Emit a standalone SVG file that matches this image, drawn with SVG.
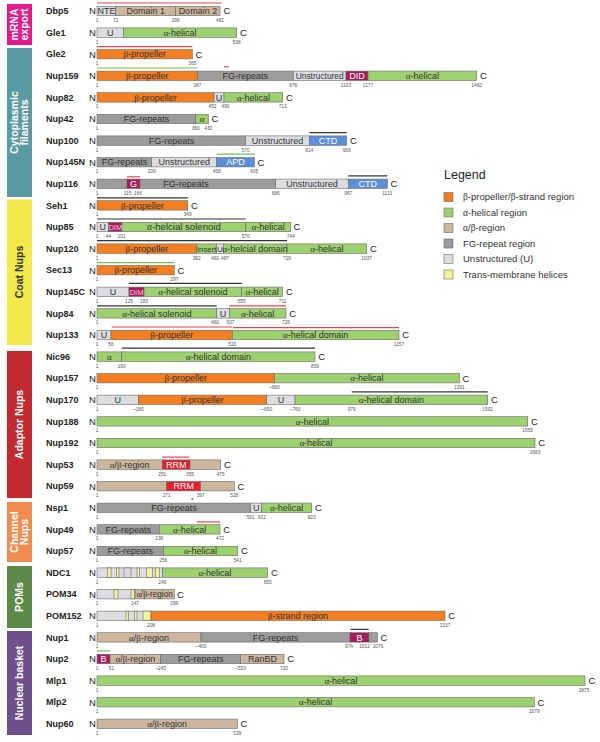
<svg xmlns="http://www.w3.org/2000/svg" width="600" height="742" viewBox="0 0 600 742">
<style>
text{font-family:"Liberation Sans",Arial,sans-serif}
.s{stroke:#6a6a6a;stroke-width:.6}
.b{fill:#f47e22}.a{fill:#9dd06e}.ab{fill:#ccb69e}.fg{fill:#9c9c9c}.u{fill:#dcdde1}.tm{fill:#f8f19c}
.m{fill:#a41c5c}.r{fill:#e3202d}.bl{fill:#5c8fd8}
.t{font-size:9px;fill:#333;text-anchor:middle}
.w{font-size:9px;fill:#fff;text-anchor:middle}
.pk{font-size:7.5px;fill:#ffc8e0;text-anchor:middle}
.g{font-family:"Liberation Serif","Times New Roman",serif}
.nm{font-size:9px;font-weight:bold;fill:#222}
.nc{font-size:9.5px;fill:#222}
.num{font-size:4.8px;fill:#555;text-anchor:middle}
.lr{stroke:#e2474f;stroke-width:1.2}
.lk{stroke:#333;stroke-width:1.2}
.lg{stroke:#6cc05a;stroke-width:1.2}
.cat{font-size:10.5px;font-weight:bold;fill:#fff;text-anchor:middle}
.lt{font-size:9.5px;fill:#333}
</style>

<g id="categories">
<g id="cat-mrna"><rect x="7" y="4" width="25" height="41" fill="#e6198c"/><text class="cat" transform="translate(19.5,24.5) rotate(-90)"><tspan x="0" y="-1.5">mRNA</tspan><tspan x="0" y="8.5">export</tspan></text></g>
<g id="cat-cyto"><rect x="7" y="48" width="25" height="149" fill="#5c9aa3"/><text class="cat" transform="translate(19.5,122.5) rotate(-90)"><tspan x="0" y="-1.5">Cytoplasmic</tspan><tspan x="0" y="8.5">filaments</tspan></text></g>
<g id="cat-coat"><rect x="7" y="199.5" width="25" height="145.5" fill="#f5ea4c"/><text class="cat" style="fill:#333" transform="translate(19.5,272) rotate(-90)" y="3.7">Coat Nups</text></g>
<g id="cat-adaptor"><rect x="7" y="351" width="25" height="147" fill="#c22a30"/><text class="cat" transform="translate(19.5,424.5) rotate(-90)" y="3.7">Adaptor Nups</text></g>
<g id="cat-channel"><rect x="7" y="502" width="25" height="60" fill="#f18c50"/><text class="cat" transform="translate(19.5,532) rotate(-90)"><tspan x="0" y="-1.5">Channel</tspan><tspan x="0" y="8.5">Nups</tspan></text></g>
<g id="cat-poms"><rect x="7" y="566" width="25" height="62" fill="#5c8b49"/><text class="cat" transform="translate(19.5,597) rotate(-90)" y="3.7">POMs</text></g>
<g id="cat-basket"><rect x="7" y="631" width="25" height="104" fill="#6f508c"/><text class="cat" transform="translate(19.5,683) rotate(-90)" y="3.7">Nuclear basket</text></g>
</g>

<g id="legend">
<text x="444" y="179" style="font-size:12.5px;fill:#222">Legend</text>
<rect class="s b" x="444" y="192.5" width="9" height="9"/><text class="lt" x="463" y="200.3"><tspan class="g">β</tspan>-propeller/<tspan class="g">β</tspan>-strand region</text>
<rect class="s a" x="444" y="208" width="9" height="9"/><text class="lt" x="463" y="215.8"><tspan class="g">α</tspan>-helical region</text>
<rect class="s ab" x="444" y="223.5" width="9" height="9"/><text class="lt" x="463" y="231.3"><tspan class="g">α</tspan>/<tspan class="g">β</tspan>-region</text>
<rect class="s fg" x="444" y="239" width="9" height="9"/><text class="lt" x="463" y="246.8">FG-repeat region</text>
<rect class="s u" x="444" y="254.5" width="9" height="9"/><text class="lt" x="463" y="262.3">Unstructured (U)</text>
<rect class="s tm" x="444" y="270" width="9" height="9"/><text class="lt" x="463" y="277.8">Trans-membrane helices</text>
</g>

<g id="connectors"></g>

<g id="Dbp5" transform="translate(0,11)">
<text class="nm" x="46" y="3.2">Dbp5</text><text class="nc" x="89" y="3.3">N</text>
<line class="lr" x1="97" y1="-8" x2="222" y2="-8"/>
<rect class="s u" x="97" y="-4.7" width="18.7" height="9.4"/><rect class="s ab" x="115.7" y="-4.7" width="60" height="9.4"/><rect class="s ab" x="175.7" y="-4.7" width="44.3" height="9.4"/>
<text class="t" x="106.4" y="3.1">NTE</text><text class="t" x="145.7" y="3.1">Domain 1</text><text class="t" x="197.9" y="3.1">Domain 2</text>
<text class="nc" x="223.5" y="3.3">C</text>
<text class="num" x="97" y="11">1</text><text class="num" x="115.7" y="11">71</text><text class="num" x="175.7" y="11">296</text><text class="num" x="220" y="11">482</text>
</g>

<g id="Gle1" transform="translate(0,32.6)">
<text class="nm" x="46" y="3.2">Gle1</text><text class="nc" x="89" y="3.3">N</text>
<rect class="s u" x="97" y="-4.7" width="26.3" height="9.4"/><rect class="s a" x="123.3" y="-4.7" width="113.4" height="9.4"/>
<text class="t" x="110.2" y="3.1">U</text><text class="t" x="180" y="3.1"><tspan class="g">α</tspan>-helical</text>
<text class="nc" x="240" y="3.3">C</text>
<text class="num" x="97" y="11">1</text><text class="num" x="236.7" y="11">538</text>
</g>

<g id="Gle2" transform="translate(0,54.2)">
<text class="nm" x="46" y="3.2">Gle2</text><text class="nc" x="89" y="3.3">N</text>
<line class="lr" x1="97" y1="-7.5" x2="192.3" y2="-7.5"/>
<rect class="s b" x="97" y="-4.7" width="95.3" height="9.4"/>
<text class="t" x="144.7" y="3.1"><tspan class="g">β</tspan>-propeller</text>
<text class="nc" x="195.5" y="3.3">C</text>
<text class="num" x="97" y="11">1</text><text class="num" x="192.3" y="11">365</text>
</g>

<g id="Nup159" transform="translate(0,75.8)">
<text class="nm" x="46" y="3.2">Nup159</text><text class="nc" x="89" y="3.3">N</text>
<line class="lg" x1="97" y1="-7.8" x2="197.3" y2="-7.8"/><line class="lr" x1="224" y1="-9" x2="229" y2="-9"/>
<rect class="s b" x="97" y="-4.7" width="100.3" height="9.4"/><rect class="s fg" x="197.3" y="-4.7" width="96" height="9.4"/><rect class="s u" x="293.3" y="-4.7" width="52.7" height="9.4"/><rect class="s m" x="346" y="-4.7" width="22" height="9.4"/><rect class="s a" x="368" y="-4.7" width="108.7" height="9.4"/>
<text class="t" x="147.2" y="3.1"><tspan class="g">β</tspan>-propeller</text><text class="t" x="245.3" y="3.1">FG-repeats</text><text class="t" x="319.7" y="3.1" style="font-size:8.4px">Unstructured</text><text class="w" x="357" y="3.1">DID</text><text class="t" x="422.4" y="3.1"><tspan class="g">α</tspan>-helical</text>
<text class="nc" x="480" y="3.3">C</text>
<text class="num" x="97" y="11">1</text><text class="num" x="197.3" y="11">387</text><text class="num" x="293.3" y="11">876</text><text class="num" x="346" y="11">1103</text><text class="num" x="368" y="11">1177</text><text class="num" x="476.7" y="11">1460</text>
</g>

<g id="Nup82" transform="translate(0,97.4)">
<text class="nm" x="46" y="3.2">Nup82</text><text class="nc" x="89" y="3.3">N</text>
<rect class="s b" x="97" y="-4.7" width="117" height="9.4"/><rect class="s u" x="214" y="-4.7" width="10" height="9.4"/><rect class="s a" x="224" y="-4.7" width="58.7" height="9.4"/>
<text class="t" x="155.5" y="3.1"><tspan class="g">β</tspan>-propeller</text><text class="t" x="219" y="3.1">U</text><text class="t" x="253.4" y="3.1"><tspan class="g">α</tspan>-helical</text>
<text class="nc" x="286" y="3.3">C</text>
<text class="num" x="97" y="11">1</text><text class="num" x="212.5" y="11">452</text><text class="num" x="225.5" y="11">490</text><text class="num" x="282.7" y="11">713</text>
</g>

<g id="Nup42" transform="translate(0,119)">
<text class="nm" x="46" y="3.2">Nup42</text><text class="nc" x="89" y="3.3">N</text>
<rect class="s fg" x="97" y="-4.7" width="98.7" height="9.4"/><rect class="s a" x="195.7" y="-4.7" width="12.6" height="9.4"/>
<text class="t" x="146.4" y="3.1">FG-repeats</text><text class="t" x="202" y="3.1"><tspan class="g">α</tspan></text>
<text class="nc" x="211.5" y="3.3">C</text>
<text class="num" x="97" y="11">1</text><text class="num" x="195.7" y="11">380</text><text class="num" x="208.3" y="11">430</text>
</g>

<g id="Nup100" transform="translate(0,140.6)">
<text class="nm" x="46" y="3.2">Nup100</text><text class="nc" x="89" y="3.3">N</text>
<line class="lk" x1="309.3" y1="-8" x2="346.7" y2="-8"/>
<rect class="s fg" x="97" y="-4.7" width="148.7" height="9.4"/><rect class="s u" x="245.7" y="-4.7" width="63.6" height="9.4"/><rect class="s bl" x="309.3" y="-4.7" width="37.4" height="9.4"/>
<text class="t" x="171.4" y="3.1">FG-repeats</text><text class="t" x="277.5" y="3.1">Unstructured</text><text class="w" x="328" y="3.1">CTD</text>
<text class="nc" x="350" y="3.3">C</text>
<text class="num" x="97" y="11">1</text><text class="num" x="245.7" y="11">570</text><text class="num" x="309.3" y="11">814</text><text class="num" x="346.7" y="11">959</text>
</g>

<g id="Nup145N" transform="translate(0,162.2)">
<text class="nm" x="46" y="3.2">Nup145N</text><text class="nc" x="89" y="3.3">N</text>
<line class="lg" x1="216.7" y1="-8" x2="255" y2="-8"/>
<rect class="s fg" x="97" y="-4.7" width="54.7" height="9.4"/><rect class="s u" x="151.7" y="-4.7" width="65" height="9.4"/><rect class="s bl" x="216.7" y="-4.7" width="37.6" height="9.4"/>
<text class="t" x="124.4" y="3.1">FG-repeats</text><text class="t" x="184.2" y="3.1">Unstructured</text><text class="w" x="235.5" y="3.1">APD</text>
<text class="nc" x="257.6" y="3.3">C</text>
<text class="num" x="97" y="11">1</text><text class="num" x="151.7" y="11">209</text><text class="num" x="216.7" y="11">458</text><text class="num" x="254.3" y="11">605</text>
</g>

<g id="Nup116" transform="translate(0,183.8)">
<text class="nm" x="46" y="3.2">Nup116</text><text class="nc" x="89" y="3.3">N</text>
<line class="lr" x1="127" y1="-7" x2="140" y2="-7"/><line class="lk" x1="348.3" y1="-8" x2="387.3" y2="-8"/>
<rect class="s fg" x="97" y="-4.7" width="30" height="9.4"/><rect class="s m" x="127" y="-4.7" width="13" height="9.4"/><rect class="s fg" x="140" y="-4.7" width="135.7" height="9.4"/><rect class="s u" x="275.7" y="-4.7" width="72.6" height="9.4"/><rect class="s bl" x="348.3" y="-4.7" width="39" height="9.4"/>
<text class="w" x="133.5" y="3.1">G</text><text class="t" x="186" y="3.1">FG-repeats</text><text class="t" x="312" y="3.1">Unstructured</text><text class="w" x="367.8" y="3.1">CTD</text>
<text class="nc" x="390.6" y="3.3">C</text>
<text class="num" x="97" y="11">1</text><text class="num" x="127.5" y="11">115</text><text class="num" x="138" y="11">166</text><text class="num" x="275.7" y="11">686</text><text class="num" x="348.3" y="11">967</text><text class="num" x="387.3" y="11">1113</text>
</g>

<g id="Seh1" transform="translate(0,205.4)">
<text class="nm" x="46" y="3.2">Seh1</text><text class="nc" x="89" y="3.3">N</text>
<line class="lk" x1="97" y1="-7.5" x2="187.7" y2="-7.5"/>
<rect class="s b" x="97" y="-4.7" width="90.7" height="9.4"/>
<text class="t" x="142.4" y="3.1"><tspan class="g">β</tspan>-propeller</text>
<text class="nc" x="191" y="3.3">C</text>
<text class="num" x="97" y="11">1</text><text class="num" x="187.7" y="11">349</text>
</g>

<g id="Nup85" transform="translate(0,227)">
<text class="nm" x="46" y="3.2">Nup85</text><text class="nc" x="89" y="3.3">N</text>
<line class="lk" x1="97" y1="-8" x2="245.7" y2="-8"/>
<rect class="s u" x="97" y="-4.7" width="11.5" height="9.4"/><rect class="s m" x="108.5" y="-4.7" width="13.5" height="9.4"/><rect class="s a" x="122" y="-4.7" width="123.7" height="9.4"/><rect class="s a" x="245.7" y="-4.7" width="45" height="9.4"/>
<text class="t" x="102.8" y="3.1">U</text><text class="pk" x="115.3" y="2.8">DIM</text><text class="t" x="183.9" y="3.1" style="font-size:9.6px"><tspan class="g">α</tspan>-helcial solenoid</text><text class="t" x="268.2" y="3.1"><tspan class="g">α</tspan>-helical</text>
<text class="nc" x="293.5" y="3.3">C</text>
<text class="num" x="97" y="11">1</text><text class="num" x="108.5" y="11">44</text><text class="num" x="121.5" y="11">101</text><text class="num" x="245.7" y="11">570</text><text class="num" x="290.7" y="11">744</text>
</g>

<g id="Nup120" transform="translate(0,248.6)">
<text class="nm" x="46" y="3.2">Nup120</text><text class="nc" x="89" y="3.3">N</text>
<line class="lk" x1="97" y1="-8" x2="287" y2="-8"/>
<rect class="s b" x="97" y="-4.7" width="99.7" height="9.4"/><rect class="s a" x="196.7" y="-4.7" width="20" height="9.4"/><rect class="s u" x="216.7" y="-4.7" width="6.6" height="9.4"/><rect class="s a" x="223.3" y="-4.7" width="63.7" height="9.4"/><rect class="s a" x="287" y="-4.7" width="79.7" height="9.4"/>
<text class="t" x="146.9" y="3.1"><tspan class="g">β</tspan>-propeller</text><text class="t" x="206.7" y="3" style="font-size:7.8px">Insert</text><text class="t" x="220" y="3" style="font-size:7.8px">U</text><text class="t" x="255.2" y="3.1"><tspan class="g">α</tspan>-helcial domain</text><text class="t" x="326.9" y="3.1"><tspan class="g">α</tspan>-helical</text>
<text class="nc" x="370" y="3.3">C</text>
<text class="num" x="97" y="11">1</text><text class="num" x="196.7" y="11">382</text><text class="num" x="215" y="11">460</text><text class="num" x="225" y="11">487</text><text class="num" x="287" y="11">729</text><text class="num" x="366.7" y="11">1037</text>
</g>

<g id="Sec13" transform="translate(0,270.2)">
<text class="nm" x="46" y="3.2">Sec13</text><text class="nc" x="89" y="3.3">N</text>
<line class="lg" x1="97" y1="-7.5" x2="174.3" y2="-7.5"/>
<rect class="s b" x="97" y="-4.7" width="77.3" height="9.4"/>
<text class="t" x="135.7" y="3.1"><tspan class="g">β</tspan>-propeller</text>
<text class="nc" x="177.6" y="3.3">C</text>
<text class="num" x="97" y="11">1</text><text class="num" x="174.3" y="11">297</text>
</g>

<g id="Nup145C" transform="translate(0,291.8)">
<text class="nm" x="46" y="3.2">Nup145C</text><text class="nc" x="89" y="3.3">N</text>
<line class="lk" x1="129" y1="-8.5" x2="241.7" y2="-8.5"/>
<rect class="s u" x="97" y="-4.7" width="32" height="9.4"/><rect class="s m" x="129" y="-4.7" width="15" height="9.4"/><rect class="s a" x="144" y="-4.7" width="97.7" height="9.4"/><rect class="s a" x="241.7" y="-4.7" width="41" height="9.4"/>
<text class="t" x="113" y="3.1">U</text><text class="pk" x="136.5" y="2.8">DIM</text><text class="t" x="192.9" y="3.1"><tspan class="g">α</tspan>-helical solenoid</text><text class="t" x="262.2" y="3.1"><tspan class="g">α</tspan>-helical</text>
<text class="nc" x="286" y="3.3">C</text>
<text class="num" x="97" y="11">1</text><text class="num" x="129" y="11">125</text><text class="num" x="144" y="11">183</text><text class="num" x="241.7" y="11">555</text><text class="num" x="282.7" y="11">711</text>
</g>

<g id="Nup84" transform="translate(0,313.4)">
<text class="nm" x="46" y="3.2">Nup84</text><text class="nc" x="89" y="3.3">N</text>
<line class="lk" x1="97" y1="-7.5" x2="216.7" y2="-7.5"/><line class="lr" x1="229.3" y1="-7.5" x2="286" y2="-7.5"/>
<rect class="s a" x="97" y="-4.7" width="119.7" height="9.4"/><rect class="s u" x="216.7" y="-4.7" width="12.6" height="9.4"/><rect class="s a" x="229.3" y="-4.7" width="56.7" height="9.4"/>
<text class="t" x="156.9" y="3.1"><tspan class="g">α</tspan>-helical solenoid</text><text class="t" x="223" y="3.1">U</text><text class="t" x="257.7" y="3.1"><tspan class="g">α</tspan>-helical</text>
<text class="nc" x="289.3" y="3.3">C</text>
<text class="num" x="97" y="11">1</text><text class="num" x="215" y="11">460</text><text class="num" x="230.5" y="11">507</text><text class="num" x="286" y="11">726</text>
</g>

<g id="Nup133" transform="translate(0,335)">
<text class="nm" x="46" y="3.2">Nup133</text><text class="nc" x="89" y="3.3">N</text>
<line class="lr" x1="111.7" y1="-8" x2="232.3" y2="-8"/><line class="lr" x1="233" y1="-7.3" x2="399" y2="-7.3"/>
<rect class="s u" x="97" y="-4.7" width="14" height="9.4"/><rect class="s b" x="111" y="-4.7" width="121.3" height="9.4"/><rect class="s a" x="232.3" y="-4.7" width="166.7" height="9.4"/>
<text class="t" x="104" y="3.1">U</text><text class="t" x="171.7" y="3.1"><tspan class="g">β</tspan>-propeller</text><text class="t" x="315.7" y="3.1"><tspan class="g">α</tspan>-helical domain</text>
<text class="nc" x="402.3" y="3.3">C</text>
<text class="num" x="97" y="11">1</text><text class="num" x="111" y="11">56</text><text class="num" x="232.3" y="11">520</text><text class="num" x="399" y="11">1157</text>
</g>

<g id="Nic96" transform="translate(0,356.6)">
<text class="nm" x="46" y="3.2">Nic96</text><text class="nc" x="89" y="3.3">N</text>
<line class="lk" x1="121.7" y1="-8.5" x2="315" y2="-8.5"/>
<rect class="s a" x="97" y="-4.7" width="24.7" height="9.4"/><rect class="s a" x="121.7" y="-4.7" width="193.3" height="9.4"/>
<text class="t" x="109.4" y="3.1"><tspan class="g">α</tspan></text><text class="t" x="218.4" y="3.1"><tspan class="g">α</tspan>-helical domain</text>
<text class="nc" x="318.3" y="3.3">C</text>
<text class="num" x="97" y="11">1</text><text class="num" x="121.7" y="11">190</text><text class="num" x="315" y="11">839</text>
</g>

<g id="Nup157" transform="translate(0,378.2)">
<text class="nm" x="46" y="3.2">Nup157</text><text class="nc" x="89" y="3.3">N</text>
<rect class="s b" x="97" y="-4.7" width="177.3" height="9.4"/><rect class="s a" x="274.3" y="-4.7" width="185" height="9.4"/>
<text class="t" x="185.7" y="3.1"><tspan class="g">β</tspan>-propeller</text><text class="t" x="366.8" y="3.1"><tspan class="g">α</tspan>-helical</text>
<text class="nc" x="462.6" y="3.3">C</text>
<text class="num" x="97" y="11">1</text><text class="num" x="274.3" y="11">~680</text><text class="num" x="459.3" y="11">1391</text>
</g>

<g id="Nup170" transform="translate(0,399.8)">
<text class="nm" x="46" y="3.2">Nup170</text><text class="nc" x="89" y="3.3">N</text>
<line class="lk" x1="351.7" y1="-8" x2="487.7" y2="-8"/>
<rect class="s u" x="97" y="-4.7" width="41.3" height="9.4"/><rect class="s b" x="138.3" y="-4.7" width="128.4" height="9.4"/><rect class="s u" x="266.7" y="-4.7" width="28.3" height="9.4"/><rect class="s a" x="295" y="-4.7" width="192.7" height="9.4"/>
<text class="t" x="117.7" y="3.1">U</text><text class="t" x="202.5" y="3.1"><tspan class="g">β</tspan>-propeller</text><text class="t" x="280.9" y="3.1">U</text><text class="t" x="391.4" y="3.1"><tspan class="g">α</tspan>-helical domain</text>
<text class="nc" x="491" y="3.3">C</text>
<text class="num" x="97" y="11">1</text><text class="num" x="138.3" y="11">~180</text><text class="num" x="266.7" y="11">~650</text><text class="num" x="295" y="11">~760</text><text class="num" x="351.7" y="11">979</text><text class="num" x="487.7" y="11">1502</text>
</g>

<g id="Nup188" transform="translate(0,421.4)">
<text class="nm" x="46" y="3.2">Nup188</text><text class="nc" x="89" y="3.3">N</text>
<rect class="s a" x="97" y="-4.7" width="430.7" height="9.4"/>
<text class="t" x="312.4" y="3.1"><tspan class="g">α</tspan>-helical</text>
<text class="nc" x="531" y="3.3">C</text>
<text class="num" x="97" y="11">1</text><text class="num" x="527.7" y="11">1655</text>
</g>

<g id="Nup192" transform="translate(0,443)">
<text class="nm" x="46" y="3.2">Nup192</text><text class="nc" x="89" y="3.3">N</text>
<rect class="s a" x="97" y="-4.7" width="438" height="9.4"/>
<text class="t" x="316" y="3.1"><tspan class="g">α</tspan>-helical</text>
<text class="nc" x="538.3" y="3.3">C</text>
<text class="num" x="97" y="11">1</text><text class="num" x="535" y="11">1683</text>
</g>

<g id="Nup53" transform="translate(0,464.6)">
<text class="nm" x="46" y="3.2">Nup53</text><text class="nc" x="89" y="3.3">N</text>
<line class="lr" x1="162.3" y1="-7.5" x2="189.3" y2="-7.5"/>
<rect class="s ab" x="97" y="-4.7" width="65.3" height="9.4"/><rect class="s r" x="162.3" y="-4.7" width="27.7" height="9.4"/><rect class="s ab" x="190" y="-4.7" width="30.7" height="9.4"/>
<text class="t" x="129.7" y="3.1"><tspan class="g">α</tspan>/<tspan class="g">β</tspan>-region</text><text class="w" x="176.2" y="3.1">RRM</text>
<text class="nc" x="224" y="3.3">C</text>
<text class="num" x="97" y="11">1</text><text class="num" x="162.3" y="11">251</text><text class="num" x="190" y="11">355</text><text class="num" x="220.7" y="11">475</text>
</g>

<g id="Nup59" transform="translate(0,486.2)">
<text class="nm" x="46" y="3.2">Nup59</text><text class="nc" x="89" y="3.3">N</text>
<rect class="s ab" x="97" y="-4.7" width="69.7" height="9.4"/><rect class="s r" x="166.7" y="-4.7" width="34" height="9.4"/><rect class="s ab" x="200.7" y="-4.7" width="33.6" height="9.4"/>
<text class="w" x="183.7" y="3.1">RRM</text>
<line class="lk" x1="191.5" y1="12.8" x2="193.3" y2="12.8"/>
<text class="nc" x="237.6" y="3.3">C</text>
<text class="num" x="97" y="11">1</text><text class="num" x="166.7" y="11">271</text><text class="num" x="200.7" y="11">397</text><text class="num" x="234.3" y="11">528</text>
</g>

<g id="Nsp1" transform="translate(0,507.8)">
<text class="nm" x="46" y="3.2">Nsp1</text><text class="nc" x="89" y="3.3">N</text>
<rect class="s fg" x="97" y="-4.7" width="153.7" height="9.4"/><rect class="s u" x="250.7" y="-4.7" width="11" height="9.4"/><rect class="s a" x="261.7" y="-4.7" width="50" height="9.4"/>
<text class="t" x="173.9" y="3.1">FG-repeats</text><text class="t" x="256.2" y="3.1">U</text><text class="t" x="286.7" y="3.1"><tspan class="g">α</tspan>-helical</text>
<text class="nc" x="315" y="3.3">C</text>
<text class="num" x="97" y="11">1</text><text class="num" x="250.7" y="11">591</text><text class="num" x="261.7" y="11">631</text><text class="num" x="311.7" y="11">823</text>
</g>

<g id="Nup49" transform="translate(0,529.4)">
<text class="nm" x="46" y="3.2">Nup49</text><text class="nc" x="89" y="3.3">N</text>
<line class="lr" x1="196.7" y1="-7.5" x2="220" y2="-7.5"/>
<rect class="s fg" x="97" y="-4.7" width="62.3" height="9.4"/><rect class="s a" x="159.3" y="-4.7" width="60.7" height="9.4"/>
<text class="t" x="128.2" y="3.1">FG-repeats</text><text class="t" x="189.7" y="3.1"><tspan class="g">α</tspan>-helical</text>
<text class="nc" x="223.3" y="3.3">C</text>
<text class="num" x="97" y="11">1</text><text class="num" x="159.3" y="11">238</text><text class="num" x="220" y="11">472</text>
</g>

<g id="Nup57" transform="translate(0,551)">
<text class="nm" x="46" y="3.2">Nup57</text><text class="nc" x="89" y="3.3">N</text>
<rect class="s fg" x="97" y="-4.7" width="66.3" height="9.4"/><rect class="s a" x="163.3" y="-4.7" width="74.4" height="9.4"/>
<text class="t" x="130.2" y="3.1">FG-repeats</text><text class="t" x="200.5" y="3.1"><tspan class="g">α</tspan>-helical</text>
<text class="nc" x="241" y="3.3">C</text>
<text class="num" x="97" y="11">1</text><text class="num" x="163.3" y="11">256</text><text class="num" x="237.7" y="11">541</text>
</g>

<g id="NDC1" transform="translate(0,572.6)">
<text class="nm" x="46" y="3.2">NDC1</text><text class="nc" x="89" y="3.3">N</text>
<rect class="s u" x="97" y="-4.7" width="65.3" height="9.4"/>
<rect class="s tm" x="107.3" y="-4.7" width="3.7" height="9.4"/><rect class="s tm" x="116.5" y="-4.7" width="2.5" height="9.4"/><rect class="s u" x="124" y="-4.7" width="7" height="9.4"/><rect class="s tm" x="137" y="-4.7" width="2.3" height="9.4"/><rect class="s tm" x="146.7" y="-4.7" width="6" height="9.4"/><rect class="s tm" x="155.3" y="-4.7" width="4" height="9.4"/>
<rect class="s a" x="162.3" y="-4.7" width="105.4" height="9.4"/>
<text class="t" x="215" y="3.1"><tspan class="g">α</tspan>-helical</text>
<text class="nc" x="271" y="3.3">C</text>
<text class="num" x="97" y="11">1</text><text class="num" x="162.3" y="11">249</text><text class="num" x="267.7" y="11">655</text>
</g>

<g id="POM34" transform="translate(0,594.2)">
<text class="nm" x="46" y="3.2">POM34</text><text class="nc" x="89" y="3.3">N</text>
<rect class="s u" x="97" y="-4.7" width="38" height="9.4"/>
<rect class="s tm" x="114" y="-4.7" width="4" height="9.4"/><rect class="s tm" x="131" y="-4.7" width="3.3" height="9.4"/>
<rect class="s ab" x="135" y="-4.7" width="39.3" height="9.4"/>
<text class="t" x="154.7" y="3.1" style="font-size:8.2px"><tspan class="g">α</tspan>/<tspan class="g">β</tspan>-region</text>
<text class="nc" x="177" y="3.3">C</text>
<text class="num" x="97" y="11">1</text><text class="num" x="135" y="11">147</text><text class="num" x="174.3" y="11">299</text>
</g>

<g id="POM152" transform="translate(0,615.8)">
<text class="nm" x="46" y="3.2">POM152</text><text class="nc" x="89" y="3.3">N</text>
<rect class="s u" x="97" y="-4.7" width="54" height="9.4"/>
<rect class="s tm" x="126" y="-4.7" width="2.7" height="9.4"/><rect class="s tm" x="134.5" y="-4.7" width="2.5" height="9.4"/><rect class="s tm" x="143" y="-4.7" width="8" height="9.4"/>
<rect class="s b" x="151" y="-4.7" width="294" height="9.4"/>
<text class="t" x="298" y="3.1"><tspan class="g">β</tspan>-strand region</text>
<text class="nc" x="448.3" y="3.3">C</text>
<text class="num" x="97" y="11">1</text><text class="num" x="151" y="11">208</text><text class="num" x="445" y="11">1337</text>
</g>

<g id="Nup1" transform="translate(0,637.4)">
<text class="nm" x="46" y="3.2">Nup1</text><text class="nc" x="89" y="3.3">N</text>
<line class="lk" x1="350.7" y1="-8" x2="368.7" y2="-8"/>
<rect class="s ab" x="97" y="-4.7" width="104" height="9.4"/><rect class="s fg" x="201" y="-4.7" width="149" height="9.4"/><rect class="s m" x="350" y="-4.7" width="19" height="9.4"/><rect class="s fg" x="369" y="-4.7" width="8.3" height="9.4"/>
<text class="t" x="149" y="3.1"><tspan class="g">α</tspan>/<tspan class="g">β</tspan>-region</text><text class="t" x="275.5" y="3.1">FG-repeats</text><text class="w" x="359.5" y="3.1">B</text>
<text class="nc" x="380.6" y="3.3">C</text>
<text class="num" x="97" y="11">1</text><text class="num" x="201" y="11">~400</text><text class="num" x="349" y="11">974</text><text class="num" x="364.5" y="11">1012</text><text class="num" x="378" y="11">1076</text>
</g>

<g id="Nup2" transform="translate(0,659)">
<text class="nm" x="46" y="3.2">Nup2</text><text class="nc" x="89" y="3.3">N</text>
<line class="lg" x1="97" y1="-8" x2="110" y2="-8"/>
<rect class="s m" x="97" y="-4.7" width="13" height="9.4"/><rect class="s ab" x="110" y="-4.7" width="50.7" height="9.4"/><rect class="s fg" x="160.7" y="-4.7" width="80" height="9.4"/><rect class="s ab" x="240.7" y="-4.7" width="43.3" height="9.4"/>
<text class="w" x="103.5" y="3.1">B</text><text class="t" x="135.4" y="3.1"><tspan class="g">α</tspan>/<tspan class="g">β</tspan>-region</text><text class="t" x="200.7" y="3.1">FG-repeats</text><text class="t" x="262.4" y="3.1">RanBD</text>
<text class="nc" x="287.3" y="3.3">C</text>
<text class="num" x="97" y="11">1</text><text class="num" x="111.5" y="11">51</text><text class="num" x="160.7" y="11">~245</text><text class="num" x="240.7" y="11">~550</text><text class="num" x="284" y="11">720</text>
</g>

<g id="Mlp1" transform="translate(0,680.6)">
<text class="nm" x="46" y="3.2">Mlp1</text><text class="nc" x="89" y="3.3">N</text>
<rect class="s a" x="97" y="-4.7" width="488" height="9.4"/>
<text class="t" x="341" y="3.1"><tspan class="g">α</tspan>-helical</text>
<text class="nc" x="588.5" y="3.3">C</text>
<text class="num" x="97" y="11">1</text><text class="num" x="584" y="11">1875</text>
</g>

<g id="Mlp2" transform="translate(0,702.2)">
<text class="nm" x="46" y="3.2">Mlp2</text><text class="nc" x="89" y="3.3">N</text>
<rect class="s a" x="97" y="-4.7" width="437.3" height="9.4"/>
<text class="t" x="315.7" y="3.1"><tspan class="g">α</tspan>-helical</text>
<text class="nc" x="537.6" y="3.3">C</text>
<text class="num" x="97" y="11">1</text><text class="num" x="534.3" y="11">1679</text>
</g>

<g id="Nup60" transform="translate(0,723.8)">
<text class="nm" x="46" y="3.2">Nup60</text><text class="nc" x="89" y="3.3">N</text>
<rect class="s ab" x="97" y="-4.7" width="140.3" height="9.4"/>
<text class="t" x="167.2" y="3.1"><tspan class="g">α</tspan>/<tspan class="g">β</tspan>-region</text>
<text class="nc" x="240.6" y="3.3">C</text>
<text class="num" x="97" y="11">1</text><text class="num" x="237.3" y="11">539</text>
</g>
</svg>
